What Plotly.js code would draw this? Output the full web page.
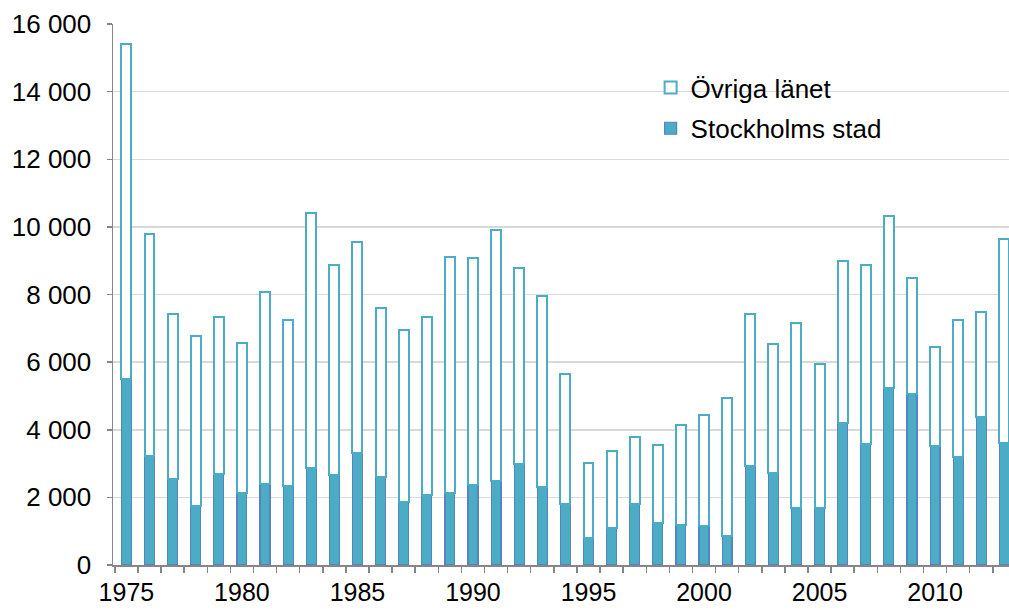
<!DOCTYPE html>
<html>
<head>
<meta charset="utf-8">
<script src="https://cdn.plot.ly/plotly-3.0.1.min.js"></script>
<style>html,body{margin:0;padding:0;background:#fff;}#chart{width:1009px;height:610px;}</style>
</head>
<body>
<div id="chart"></div>
<script>
const years = [1975,1976,1977,1978,1979,1980,1981,1982,1983,1984,1985,1986,1987,1988,1989,1990,1991,1992,1993,1994,1995,1996,1997,1998,1999,2000,2001,2002,2003,2004,2005,2006,2007,2008,2009,2010,2011,2012,2013];
const stockholmsStad = [5490,3210,2550,1750,2690,2140,2400,2340,2860,2650,3300,2600,1850,2070,2120,2380,2480,2990,2300,1790,800,1100,1800,1230,1190,1160,870,2920,2730,1690,1700,4200,3580,5240,5050,3530,3200,4370,3620];
const ovrigaLanet = [9930,6570,4860,5010,4630,4420,5660,4910,7540,6220,6260,5010,5110,5260,6990,6710,7420,5780,5670,3860,2230,2280,2000,2330,2950,3280,4080,4490,3810,5480,4240,4780,5280,5080,3450,2910,4060,3100,6010];
const yTicks = [0,2000,4000,6000,8000,10000,12000,14000,16000];
const xTicks = [1975,1980,1985,1990,1995,2000,2005,2010];

const font = {family: 'Liberation Sans, Arial, sans-serif', size: 26, color: '#000'};
const xfont = {family: 'Liberation Sans, Arial, sans-serif', size: 25, color: '#000'};

const traces = [
  {
    type: 'bar', name: 'Stockholms stad', x: years, y: stockholmsStad,
    width: 0.43, legendgroup: 'a', legendrank: 2,
    marker: {color: '#4BACC6', line: {color: '#5A82C0', width: 1.2}}
  },
  {
    type: 'bar', name: 'Övriga länet', x: years, y: ovrigaLanet,
    width: 0.43, legendgroup: 'b', legendrank: 1,
    marker: {color: '#ffffff', line: {color: '#4BACC6', width: 2}}
  }
];

const layout = {
  width: 1009, height: 610,
  margin: {l: 113, r: 0, t: 24, b: 45},
  paper_bgcolor: '#fff', plot_bgcolor: '#fff',
  barmode: 'stack',
  separators: ', ',
  font: font,
  showlegend: true,
  legend: {
    x: 0.6, y: 0.926, xanchor: 'left', yanchor: 'top',
    traceorder: 'grouped', tracegroupgap: 4,
    font: {family: 'Liberation Sans, Arial, sans-serif', size: 26, color: '#000'},
    bgcolor: 'rgba(0,0,0,0)', itemwidth: 30
  },
  xaxis: {
    range: [1974.42, 2013.2],
    tickmode: 'array', tickvals: xTicks, ticktext: xTicks.map(String),
    ticks: '', showgrid: false, zeroline: false,
    ticklabelstandoff: 4,
    showline: true, linecolor: '#868686', linewidth: 1.5,
    tickfont: xfont,
    minor: {tick0: 1974.5, dtick: 1, ticks: 'outside', ticklen: 6, tickcolor: '#868686', tickwidth: 1.5, showgrid: false}
  },
  yaxis: {
    range: [0, 16000],
    tickmode: 'array', tickvals: yTicks, ticktext: yTicks.map(v => v === 0 ? '0' : (v/1000) + ' 000'),
    ticks: 'outside', ticklen: 5, tickcolor: '#868686', tickwidth: 1.5,
    ticklabelstandoff: 10,
    showgrid: true, gridcolor: '#d9d9d9', gridwidth: 1.5,
    zeroline: false,
    showline: true, linecolor: '#868686', linewidth: 1.5,
    tickfont: font
  }
};

Plotly.newPlot('chart', traces, layout, {displayModeBar: false, staticPlot: true});
</script>
</body>
</html>
